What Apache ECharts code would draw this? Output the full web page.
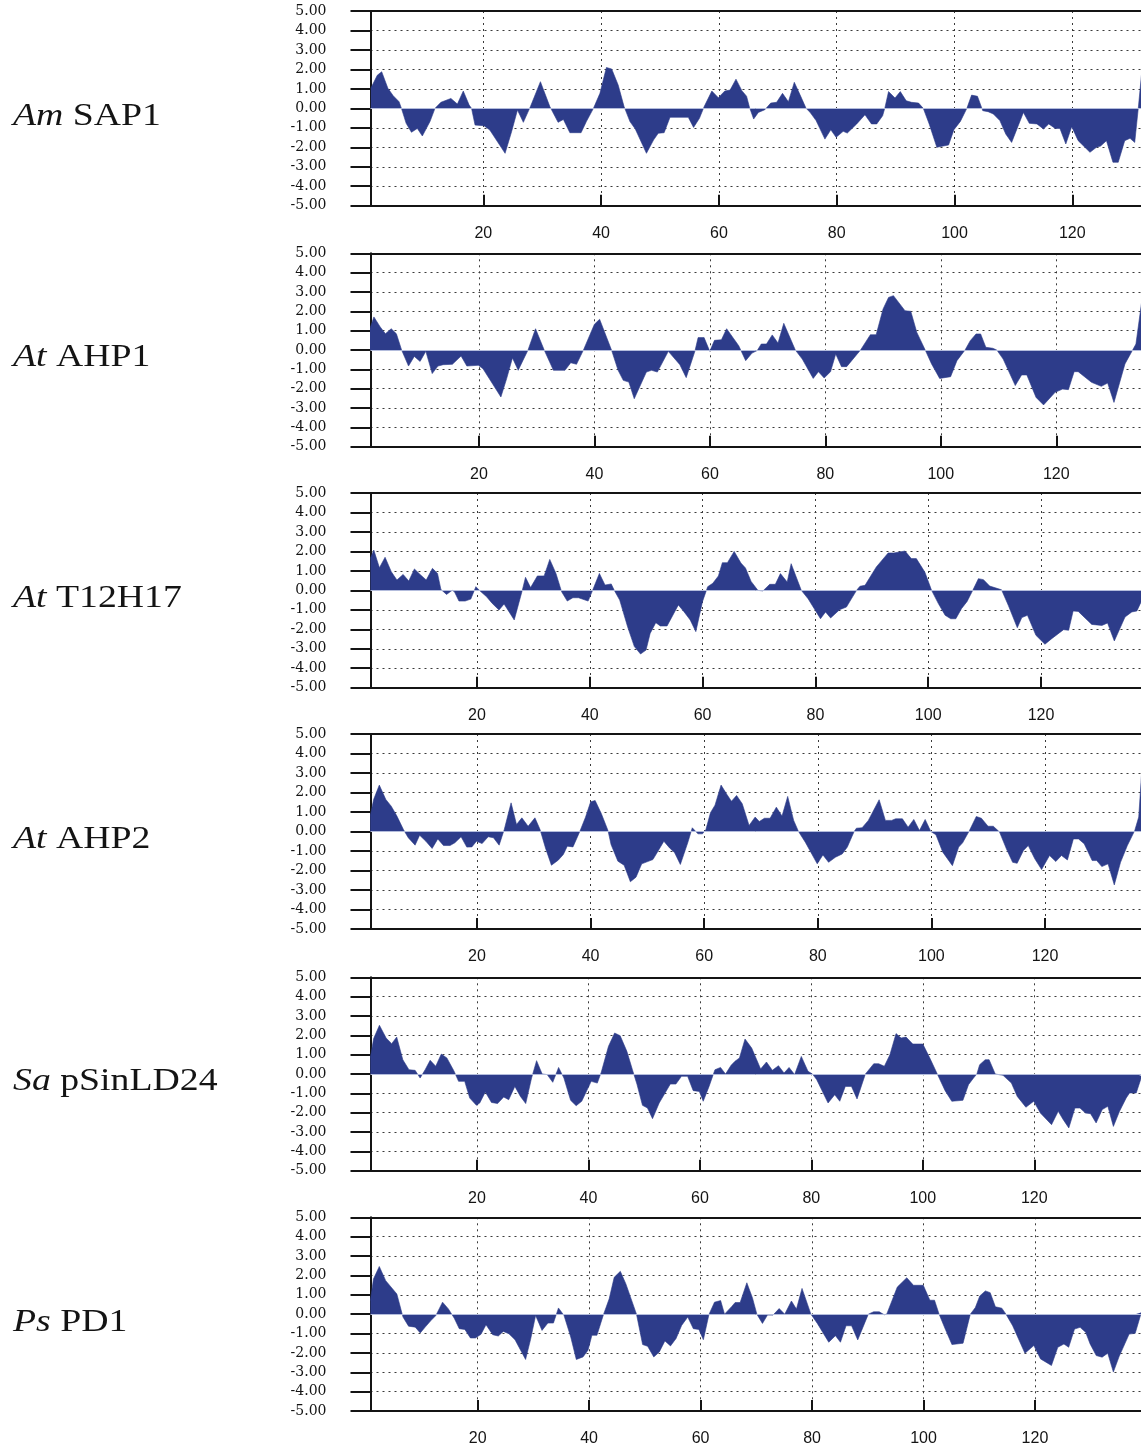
<!DOCTYPE html>
<html><head><meta charset="utf-8">
<script src="https://cdn.jsdelivr.net/npm/echarts@6/dist/echarts.min.js"></script>
<style>html,body{margin:0;padding:0;background:#fff;overflow:hidden}#c{width:1141px;height:1447px}</style>
</head><body><div id="c"></div>
<script>
// ---- data ----
const xTickValues = [20, 40, 60, 80, 100, 120];
const panelSpecies = ['Am', 'At', 'At', 'At', 'Sa', 'Ps'];
const panelGenes = ['SAP1', 'AHP1', 'T12H17', 'AHP2', 'pSinLD24', 'PD1'];

const amSap1 = [[0.9,1.03],[2,1.7],[2.75,1.88],[3.8,1.03],[4.7,0.65],[5.7,0.34],[6.1,0],[6.9,-0.77],[7.8,-1.23],[8.8,-1.03],[9.65,-1.42],[10.95,-0.68],[11.8,0],[12.8,0.31],[14.5,0.51],[15.6,0.22],[16.6,0.89],[17.6,0.17],[18,0],[18.6,-0.86],[20.1,-0.89],[21.1,-1.11],[23.7,-2.31],[24.8,-1.2],[25.8,-0.09],[26.8,-0.72],[28,0.09],[29.7,1.37],[31.3,0.09],[32.7,-0.72],[33.6,-0.57],[34.7,-1.25],[36.6,-1.25],[37.5,-0.68],[38.7,0],[39.8,0.77],[40.9,2.1],[41.8,2.02],[42.9,1.2],[43.9,0.09],[44.9,-0.68],[45.8,-1.06],[47.7,-2.31],[48.9,-1.63],[49.7,-1.28],[50.7,-1.25],[51.7,-0.46],[54.8,-0.46],[55.7,-0.98],[56.7,-0.51],[57.5,0.09],[58.8,0.89],[59.9,0.55],[61,0.89],[61.9,0.94],[62.9,1.5],[63.9,0.91],[64.7,0.62],[65.2,0.05],[65.9,-0.55],[66.7,-0.21],[67.8,-0.07],[68.1,0],[68.8,0.27],[69.8,0.31],[70.8,0.77],[71.8,0.34],[72.8,1.34],[73.8,0.68],[74.8,0],[75.5,-0.21],[76.5,-0.63],[78,-1.58],[79,-1.1],[79.9,-1.49],[81.1,-1.18],[81.8,-1.27],[83.4,-0.8],[84.8,-0.33],[85.9,-0.8],[86.8,-0.8],[87.8,-0.38],[88.2,0.05],[88.8,0.86],[89.9,0.53],[90.8,0.86],[91.8,0.39],[92.7,0.31],[93.9,0.27],[94.7,0],[95.7,-0.8],[97,-2],[99,-1.88],[99.9,-1.1],[101,-0.67],[102.1,0],[102.9,0.68],[103.9,0.62],[104.8,-0.12],[105.7,-0.17],[106.6,-0.29],[107.7,-0.63],[108.7,-1.32],[109.7,-1.75],[110.6,-1.06],[111.7,-0.21],[112.7,-0.77],[114,-0.8],[115.1,-1.06],[116,-0.8],[117.1,-1.03],[117.9,-1.03],[118.9,-1.83],[119.9,-0.94],[121,-1.66],[123,-2.26],[124.1,-2],[124.8,-1.94],[125.8,-1.66],[126.9,-2.77],[127.8,-2.77],[128.9,-1.66],[129.8,-1.54],[130.6,-1.75],[131.2,0],[131.8,1.9]];

const atAhp1 = [[1.1,1.1],[1.8,1.71],[2.9,1.19],[3.8,0.84],[4.8,1.1],[5.7,0.84],[6.6,0],[7.8,-0.83],[8.8,-0.33],[9.8,-0.59],[10.8,-0.07],[11.9,-1.22],[12.9,-0.83],[13.8,-0.76],[15.4,-0.74],[16.9,-0.31],[17.9,-0.83],[19.9,-0.79],[20.7,-0.97],[23.8,-2.43],[24.8,-1.48],[25.8,-0.41],[26.8,-1.05],[28.5,0],[29.8,1.1],[31.3,0],[32.9,-1.05],[34.9,-1.05],[35.9,-0.66],[36.9,-0.74],[38.1,0],[40,1.33],[40.9,1.59],[42.96,0],[44.1,-1.05],[45,-1.57],[45.96,-1.66],[46.9,-2.52],[49,-1.14],[49.9,-1.05],[50.9,-1.14],[52.8,-0.07],[54.8,-0.76],[55.9,-1.43],[57.4,-0.07],[57.96,0.64],[59,0.64],[59.98,-0.07],[60.8,0.5],[62,0.53],[62.9,1.1],[65,0.22],[66.2,-0.55],[67.3,-0.16],[68.2,-0.03],[68.9,0.31],[69.8,0.31],[70.8,0.78],[71.8,0.36],[72.8,1.38],[74.8,0],[76,-0.47],[77.9,-1.47],[78.8,-1.12],[79.8,-1.45],[80.9,-1.12],[81.8,-0.21],[82.8,-0.86],[83.7,-0.86],[86.1,0],[87.8,0.79],[88.8,0.79],[90,2.12],[90.95,2.72],[91.8,2.81],[93.8,2.03],[94.8,2],[95.85,0.91],[97.3,0],[98.4,-0.72],[99.8,-1.47],[101.7,-1.38],[102.8,-0.55],[104.2,0],[105.1,0.48],[106.1,0.83],[106.9,0.83],[107.8,0.14],[109,0.09],[109.7,0],[110.8,-0.47],[112.9,-1.84],[114,-1.29],[114.9,-1.29],[116.5,-2.45],[117.8,-2.84],[119.8,-2.19],[121.1,-2.02],[122.1,-2.05],[123.1,-1.12],[123.8,-1.12],[126.1,-1.67],[127.8,-1.88],[128.9,-1.71],[130,-2.71],[131.9,-0.72],[133.8,0.31],[134.8,2.5]];

const atT12h17 = [[1.1,1.64],[1.7,2.07],[2.7,1.16],[3.7,1.7],[4.8,0.96],[5.8,0.53],[6.9,0.82],[7.9,0.48],[8.9,1.1],[9.9,0.82],[11,0.53],[12.1,1.13],[13,0.87],[13.6,0.05],[14.6,-0.21],[15.6,0],[16,-0.07],[16.8,-0.55],[17.9,-0.55],[18.9,-0.45],[19.8,0.19],[20.5,-0.02],[21.7,-0.33],[22.7,-0.67],[23.9,-1.01],[24.8,-0.7],[26.6,-1.52],[28,-0.03],[28.6,0.67],[29.5,0.14],[30.7,0.74],[31.9,0.74],[32.9,1.59],[34,0.87],[35,-0.07],[36,-0.55],[37,-0.38],[38,-0.38],[39.7,-0.55],[40.5,0],[41.7,0.87],[42.7,0.27],[43.8,0.33],[44.4,-0.03],[45.3,-0.5],[46.7,-1.87],[47.9,-2.89],[49,-3.27],[49.97,-3.07],[50.7,-2.21],[51.7,-1.66],[52.5,-1.83],[53.7,-1.83],[55.7,-0.75],[56.7,-1.1],[57.8,-1.52],[58.8,-2.12],[59.98,-0.58],[60.9,0.19],[61.8,0.36],[62.8,0.74],[63.5,1.42],[64.4,1.42],[65.6,2],[66.8,1.4],[67.6,1.15],[68.6,0.46],[69.8,0],[70.7,-0.03],[71.9,0.31],[72.9,0.31],[73.8,0.86],[75,0.43],[75.7,1.37],[77.5,0],[78.7,-0.43],[80.9,-1.46],[81.8,-1.11],[82.7,-1.42],[84.3,-0.99],[85.5,-0.86],[87.3,0],[87.9,0.21],[88.8,0.26],[90.8,1.2],[92.9,1.92],[93.9,1.92],[95.9,2.02],[97,1.63],[97.9,1.63],[99.4,0.94],[100.6,0],[101.8,-0.68],[103,-1.28],[104,-1.46],[104.9,-1.46],[105.9,-0.94],[106.9,-0.57],[107.9,0],[108.9,0.6],[109.8,0.55],[110.9,0.22],[113,0.03],[114.2,-0.77],[115.8,-1.92],[116.6,-1.4],[117.6,-1.28],[119.1,-2.31],[120.7,-2.77],[121.9,-2.48],[124,-2.02],[124.9,-2.05],[125.7,-1.06],[126.6,-1.08],[129,-1.75],[130.8,-1.8],[131.8,-1.68],[133,-2.6],[134.9,-1.37],[136.1,-1.11],[137,-1.06],[137.9,-0.5]];

const atAhp2 = [[1.2,0.79],[1.8,1.64],[2.8,2.38],[3.95,1.64],[4.9,1.3],[5.9,0.79],[7.05,0.1],[7.9,-0.32],[9.1,-0.7],[9.9,-0.19],[11,-0.5],[12.1,-0.87],[13.1,-0.38],[14.1,-0.72],[15.25,-0.72],[16.1,-0.58],[17.2,-0.27],[18.2,-0.8],[19.1,-0.79],[19.9,-0.5],[20.9,-0.62],[21.97,-0.27],[22.9,-0.32],[23.9,-0.7],[24.8,0.1],[26,1.47],[26.96,0.36],[27.9,0.7],[29,0.27],[30.2,0.7],[31.1,0.1],[32.05,-0.84],[33.1,-1.73],[34.3,-1.47],[35.2,-1.18],[35.9,-0.75],[36.9,-0.79],[38.1,0],[39.1,0.73],[40,1.52],[40.8,1.59],[41.9,0.91],[43.06,0.05],[43.6,-0.67],[44.8,-1.52],[45.9,-1.73],[47,-2.58],[48,-2.34],[49,-1.66],[50.97,-1.44],[51.96,-0.96],[52.9,-0.5],[53.9,-0.84],[54.8,-1.09],[55.8,-1.69],[57.1,-0.58],[57.7,0],[57.9,0.19],[58.9,-0.12],[59.7,-0.12],[60.3,0.1],[61.1,0.96],[61.9,1.35],[62.97,2.38],[64,1.9],[64.8,1.55],[65.7,1.85],[66.7,1.42],[67.9,0.31],[68.97,0.74],[69.7,0.51],[70.6,0.68],[71.6,0.68],[72.7,1.25],[73.7,0.79],[74.7,1.8],[75.75,0.57],[76.6,0],[77.8,-0.55],[79.9,-1.66],[80.9,-1.2],[81.9,-1.58],[83.1,-1.32],[84.3,-1.15],[85.2,-0.8],[86.4,0],[86.8,0.17],[87.8,0.19],[88.9,0.57],[90.8,1.63],[91.9,0.57],[93,0.57],[93.7,0.65],[94.9,0.65],[95.9,0.22],[96.9,0.62],[97.9,0.05],[98.9,0.62],[99.9,0],[100.8,-0.17],[102,-1.06],[103.7,-1.75],[104.8,-0.8],[105.5,-0.58],[106.7,0.05],[107.9,0.77],[108.8,0.68],[109.97,0.27],[110.9,0.27],[112,-0.03],[113.2,-0.89],[114.3,-1.58],[115.1,-1.63],[116.2,-0.98],[117.05,-0.72],[118.2,-1.4],[119.4,-1.95],[120.8,-1.23],[121.9,-1.54],[122.9,-1.23],[123.95,-1.46],[125,-0.38],[125.9,-0.38],[126.9,-0.63],[128.3,-1.49],[129.1,-1.49],[130,-1.8],[131.1,-1.66],[132.2,-2.74],[133.3,-1.58],[134.5,-0.72],[135.8,0.05],[136.5,0.74],[137.1,3.39]];

const saPsinld24 = [[0.86,0.83],[1.46,1.83],[2.5,2.52],[3.7,1.86],[4.7,1.57],[5.6,1.91],[6.7,0.74],[7.8,0.22],[8.9,0.19],[9.8,-0.21],[10.7,0.22],[11.6,0.71],[12.6,0.4],[13.6,1.03],[14.6,0.83],[15.9,0.14],[16.7,-0.38],[17.8,-0.38],[18.7,-1.24],[19.9,-1.62],[20.5,-1.5],[21.5,-0.93],[22.6,-1.47],[23.7,-1.53],[24.8,-1.19],[25.7,-1.33],[26.8,-0.64],[27.8,-1.16],[28.75,-1.53],[29.8,-0.21],[30.7,0.69],[31.7,0],[32.6,-0.03],[33.6,-0.43],[34.65,0.34],[35.6,-0.21],[36.8,-1.36],[37.8,-1.64],[38.8,-1.41],[40.5,-0.38],[41.6,-0.47],[42.3,0.09],[43.6,1.43],[44.7,2.12],[45.7,1.98],[46.9,1.17],[47.9,0.22],[48.7,-0.52],[49.7,-1.62],[50.6,-1.76],[51.5,-2.31],[52.7,-1.5],[54.7,-0.52],[55.7,-0.52],[56.7,-0.12],[57.8,-0.12],[58.8,-0.86],[59.9,-0.9],[60.6,-1.41],[61.65,-0.64],[62.7,0.22],[63.7,0.34],[64.6,0],[65.6,0.45],[66.3,0.66],[67.1,0.83],[68.1,1.81],[69.3,1.34],[70.9,0.26],[71.95,0.62],[73,0.19],[74.1,0.43],[75.1,0.05],[76,0.34],[77,-0.03],[78.2,0.91],[79.4,0.14],[80.2,0],[80.95,-0.29],[83,-1.5],[84.2,-1.07],[85.1,-1.41],[86.1,-0.64],[87.2,-0.64],[88.2,-1.29],[89.7,0],[91.2,0.53],[92.1,0.53],[93.1,0.4],[94.1,1],[95.2,2.09],[96.1,1.86],[97,1.91],[98.2,1.55],[100,1.55],[101.2,0.86],[102.6,0],[104,-0.86],[105.2,-1.41],[107.2,-1.36],[108.2,-0.55],[109.1,-0.21],[109.7,0],[110.2,0.48],[111.2,0.74],[111.9,0.74],[113,0],[114.4,-0.07],[115.9,-0.47],[116.95,-1.16],[118.5,-1.72],[119.9,-1.41],[121.1,-2.02],[123.1,-2.62],[124.3,-1.93],[125.2,-2.36],[126.2,-2.79],[127.3,-1.76],[128.2,-1.76],[129.2,-2.02],[130.1,-2.05],[131.1,-2.53],[132.2,-1.84],[133.2,-1.67],[134.2,-2.71],[135.3,-1.93],[136.5,-1.24],[137.1,-0.98],[138.3,-0.98],[139.3,-0.1]];

const psPd1 = [[0.75,0.7],[1.3,1.81],[2.35,2.46],[3.5,1.73],[4.6,1.35],[5.5,1.04],[6.6,-0.15],[7.6,-0.62],[8.8,-0.67],[9.7,-0.97],[10.7,-0.63],[11.65,-0.32],[12.5,-0.07],[13.7,0.62],[14.75,0.27],[15.8,-0.21],[16.7,-0.75],[17.7,-0.79],[18.7,-1.23],[19.6,-1.23],[20.6,-1.04],[21.5,-0.55],[22.7,-1.06],[23.7,-1.13],[24.6,-0.89],[25.6,-1.01],[26.7,-1.32],[28.6,-2.34],[29.5,-1.3],[30.4,-0.07],[31.55,-0.84],[32.6,-0.46],[33.6,-0.46],[34.5,0.32],[35.5,-0.07],[36.7,-1.18],[37.7,-2.34],[38.9,-2.21],[39.8,-1.86],[40.5,-1.09],[41.4,-1.09],[42.6,0],[43.6,0.79],[44.5,1.9],[45.6,2.21],[46.6,1.56],[48.5,0],[49.6,-1.57],[50.5,-1.66],[51.6,-2.21],[52.6,-1.95],[53.6,-1.38],[54.6,-1.64],[55.6,-1.26],[56.6,-0.58],[57.7,-0.15],[58.7,-0.75],[59.7,-0.79],[60.5,-1.32],[61.5,-0.02],[62.5,0.62],[63.6,0.7],[64.3,0],[65.6,0.4],[66.2,0.6],[67.1,0.6],[68.3,1.62],[69.3,0.85],[70.1,0],[71.1,-0.48],[72,-0.05],[73,-0.05],[74.1,0.29],[75.1,0],[76.3,0.68],[77.2,0.26],[78.2,1.33],[79.8,0],[80.95,-0.48],[83,-1.45],[84.2,-1.11],[85.1,-1.45],[86.1,-0.6],[87.1,-0.6],[88.2,-1.33],[90.1,0],[91.05,0.12],[92.06,0.12],[92.95,-0.03],[93.4,0],[95.3,1.4],[97,1.88],[98.2,1.49],[99.96,1.49],[101.15,0.72],[101.98,0.72],[102.8,0],[103.9,-0.77],[105.1,-1.57],[107.1,-1.5],[108.4,0],[109.3,0.34],[110.1,0.94],[111.1,1.2],[111.97,1.11],[112.9,0.38],[114.05,0.31],[114.8,0],[116,-0.6],[118.2,-2.02],[119.8,-1.62],[121,-2.31],[122.96,-2.65],[124.1,-1.71],[125.2,-1.54],[126.05,-1.71],[127.1,-0.77],[128.1,-0.68],[129.1,-0.94],[129.9,-1.54],[131,-2.14],[132.05,-2.22],[133.06,-2.02],[134.07,-2.99],[135.1,-2.19],[136.9,-1.03],[137.99,-0.99],[139.1,0.09]];

const panelData = [amSap1, atAhp1, atT12h17, atAhp2, saPsinld24, psPd1];

// ---- layout (pixels) ----
const panelTop = [11, 253.3, 493, 734, 977.3, 1217.3];
const panelBottom = [205.7, 446.7, 687.7, 929, 1170.7, 1412.3];
const xZeroPx = [365.5, 363.5, 364.2, 363.4, 365.5, 366.2];
const pxPerUnit = [5.89, 5.773, 5.64, 5.68, 5.573, 5.573];
const axisPx = 370.5, rightPx = 1141;
const NAVY = '#2d3c8a';
const INK = '#141414';

const grids = [], xAxes = [], yAxes = [], series = [], graphics = [];
panelData.forEach((data, i) => {
  const xMin = (axisPx - xZeroPx[i]) / pxPerUnit[i];
  const xMax = (rightPx - xZeroPx[i]) / pxPerUnit[i];
  grids.push({
    left: axisPx, top: panelTop[i], width: rightPx - axisPx, height: panelBottom[i] - panelTop[i],
    show: false, containLabel: false
  });
  xAxes.push({
    gridIndex: i, type: 'value', position: 'bottom', min: xMin, max: xMax,
    axisLine: { show: true, onZero: false, lineStyle: { color: INK, width: 2 } },
    axisTick: { show: true, inside: true, length: 11, customValues: xTickValues, lineStyle: { color: INK, width: 2 } },
    axisLabel: { customValues: xTickValues, margin: 20, color: INK, fontFamily: 'Liberation Sans', fontSize: 16 },
    splitLine: { show: true, lineStyle: { color: '#3a3a3a', type: [2, 4], width: 1 } }
  });
  xAxes.push({
    gridIndex: i, type: 'value', position: 'top', min: xMin, max: xMax,
    axisLine: { show: true, onZero: false, lineStyle: { color: INK, width: 2 } },
    axisTick: { show: false }, axisLabel: { show: false }, splitLine: { show: false }
  });
  yAxes.push({
    gridIndex: i, type: 'value', min: -5, max: 5, interval: 1,
    axisLine: { show: true, onZero: false, lineStyle: { color: INK, width: 2 } },
    axisTick: { show: true, length: 20, lineStyle: { color: INK, width: 2 } },
    axisLabel: { margin: 44, color: INK, fontFamily: 'DejaVu Serif', fontSize: 14, padding: [9, 0, 0, 0],
      formatter: v => v.toFixed(2) },
    splitLine: { show: true, lineStyle: { color: '#3a3a3a', type: [2, 4], width: 1 } }
  });
  series.push({
    type: 'line', xAxisIndex: 2 * i, yAxisIndex: i, data: data,
    symbol: 'none', showSymbol: false, silent: true,
    lineStyle: { color: NAVY, width: 0.6 },
    areaStyle: { color: NAVY, opacity: 1 },
    markLine: { silent: true, symbol: 'none', label: { show: false },
      lineStyle: { color: '#b3bcdc', width: 1, type: 'solid' }, data: [{ yAxis: 0 }] }
  });
  const zeroPx = (panelTop[i] + panelBottom[i]) / 2;
  graphics.push({
    type: 'text', x: 13, y: zeroPx + 8, scaleX: 1.18,
    style: {
      text: '{i|' + panelSpecies[i] + '} ' + panelGenes[i],
      fontFamily: 'Liberation Serif', fontSize: 32, fill: INK, verticalAlign: 'middle',
      rich: { i: { fontFamily: 'Liberation Serif', fontSize: 32, fontStyle: 'italic', fill: INK } }
    }
  });
});

const chart = echarts.init(document.getElementById('c'), null, { renderer: 'canvas' });
chart.setOption({
  animation: false,
  backgroundColor: '#ffffff',
  grid: grids, xAxis: xAxes, yAxis: yAxes, series: series, graphic: graphics
});
</script>
</body></html>
